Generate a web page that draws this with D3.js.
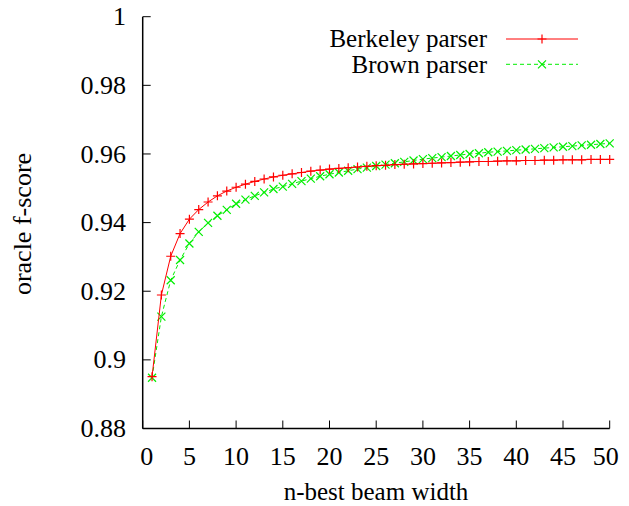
<!DOCTYPE html>
<html><head><meta charset="utf-8">
<script src="https://cdn.jsdelivr.net/npm/d3@7"></script>
<style>body{margin:0;background:#fff}svg{display:block}</style>
</head><body><div id="c"></div>
<script>
const beamWidth = d3.range(1, 51);
const berkeley = [0.8951,0.9189,0.9302,0.9368,0.9410,0.9438,0.9460,0.9478,0.9492,0.9503,
0.9512,0.9520,0.9527,0.9533,0.9538,0.9542,0.9546,0.9550,0.9553,0.9556,
0.9558,0.9560,0.9562,0.9564,0.9566,0.9567,0.9569,0.9570,0.9571,0.9572,
0.9573,0.9574,0.9575,0.9576,0.9577,0.9578,0.9578,0.9579,0.9580,0.9580,
0.9581,0.9581,0.9582,0.9582,0.9583,0.9583,0.9583,0.9584,0.9584,0.9584];
const brown = [0.8948,0.9126,0.9232,0.9291,0.9339,0.9373,0.9399,0.9420,0.9437,0.9455,
0.9467,0.9478,0.9488,0.9498,0.9505,0.9513,0.9521,0.9528,0.9535,0.9541,
0.9546,0.9551,0.9556,0.9560,0.9565,0.9569,0.9573,0.9577,0.9581,0.9585,
0.9588,0.9591,0.9594,0.9597,0.9600,0.9602,0.9605,0.9607,0.9609,0.9611,
0.9613,0.9615,0.9617,0.9619,0.9621,0.9623,0.9625,0.9627,0.9629,0.9631];
const xTicks = [0,5,10,15,20,25,30,35,40,45,50];
const yTicks = [0.88,0.90,0.92,0.94,0.96,0.98,1.0];
const yTickLabels = ["0.88","0.9","0.92","0.94","0.96","0.98","1"];
const seriesNames = ["Berkeley parser","Brown parser"];
const seriesColors = ["#ff0000","#00ee00"];

const W=629,H=506;
const svg=d3.select("#c").append("svg").attr("width",W).attr("height",H)
  .style("font-family","Liberation Serif");
const x=d3.scaleLinear().domain([0,50]).range([142.7,609.7]);
const y=d3.scaleLinear().domain([0.88,1.0]).range([428.5,16.7]);
const fs=26;

const ax=svg.append("g");
ax.append("line").attr("x1",x(0)).attr("x2",x(0)).attr("y1",y(1)).attr("y2",y(0.88)).attr("stroke","#000").attr("stroke-width",1.5);
ax.append("line").attr("x1",x(0)).attr("x2",x(50)).attr("y1",y(0.88)).attr("y2",y(0.88)).attr("stroke","#000").attr("stroke-width",1.5);
yTicks.forEach((t,i)=>{
  ax.append("line").attr("x1",x(0)).attr("x2",x(0)+8).attr("y1",y(t)).attr("y2",y(t)).attr("stroke","#000").attr("stroke-width",1);
  ax.append("text").attr("x",126).attr("y",y(t)).attr("dy","0.33em").attr("text-anchor","end").attr("font-size",fs).text(yTickLabels[i]);
});
xTicks.forEach(t=>{
  ax.append("line").attr("x1",x(t)).attr("x2",x(t)).attr("y1",y(0.88)).attr("y2",y(0.88)-8).attr("stroke","#000").attr("stroke-width",1);
  ax.append("text").attr("x",x(t)+(t===0?4:(t===50?-4:0))).attr("y",456).attr("dy","0.33em").attr("text-anchor","middle").attr("font-size",fs).text(t);
});
svg.append("text").attr("x",376).attr("y",492).attr("dy","0.33em").attr("text-anchor","middle").attr("font-size",25).text("n-best beam width");
svg.append("text").attr("transform","translate(22,224) rotate(-90)").attr("dy","0.33em").attr("text-anchor","middle").attr("font-size",fs).text("oracle f-score");

const line=d3.line().x((d,i)=>x(beamWidth[i])).y(d=>y(d));
const plus=(g,cx,cy,c)=>{g.append("path").attr("d",`M${cx-4.5},${cy}H${cx+4.5}M${cx},${cy-4.5}V${cy+4.5}`).attr("stroke",c).attr("stroke-width",1.2).attr("fill","none");};
const cross=(g,cx,cy,c)=>{g.append("path").attr("d",`M${cx-4},${cy-4}L${cx+4},${cy+4}M${cx-4},${cy+4}L${cx+4},${cy-4}`).attr("stroke",c).attr("stroke-width",1.2).attr("fill","none");};

const g=svg.append("g");
g.append("path").datum(brown).attr("d",line).attr("fill","none").attr("stroke",seriesColors[1]).attr("stroke-width",1).attr("stroke-dasharray","4,3");
brown.forEach((v,i)=>cross(g,x(beamWidth[i]),y(v),seriesColors[1]));
g.append("path").datum(berkeley).attr("d",line).attr("fill","none").attr("stroke",seriesColors[0]).attr("stroke-width",1);
berkeley.forEach((v,i)=>plus(g,x(beamWidth[i]),y(v),seriesColors[0]));

const lg=svg.append("g");
[39,64.3].forEach((ly,i)=>{
  lg.append("text").attr("x",487).attr("y",ly).attr("dy","0.33em").attr("text-anchor","end").attr("font-size",25).text(seriesNames[i]);
  lg.append("line").attr("x1",506).attr("x2",578).attr("y1",ly).attr("y2",ly).attr("stroke",seriesColors[i]).attr("stroke-width",1).attr("stroke-dasharray",i?"4,3":null);
  if(i===0) plus(lg,542,ly,seriesColors[0]); else cross(lg,542,ly,seriesColors[1]);
});
</script></body></html>
